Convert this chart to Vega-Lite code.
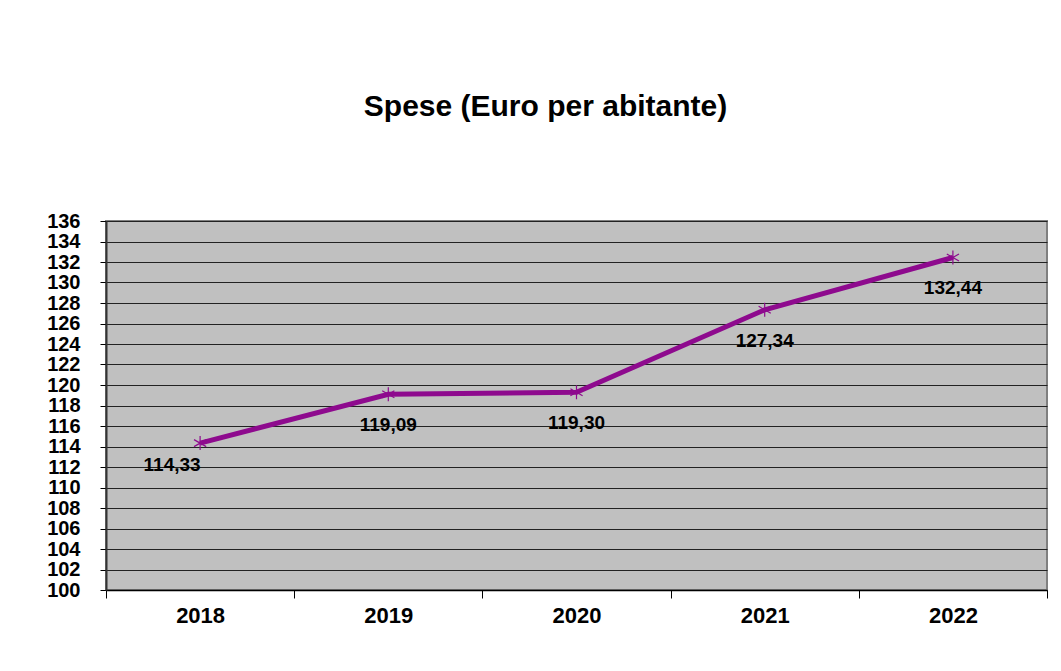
{
  "$schema": "https://vega.github.io/schema/vega-lite/v6.json",
  "autosize": "none",
  "width": 941,
  "height": 369,
  "padding": {"left": 106, "top": 221, "right": 14, "bottom": 81},
  "background": "white",
  "config": {
    "font": "Liberation Sans",
    "view": {"fill": "#C0C0C0", "stroke": "#808080", "strokeWidth": 2}
  },
  "title": {
    "text": "Spese (Euro per abitante)",
    "fontSize": 30,
    "fontWeight": "bold",
    "font": "Liberation Sans",
    "color": "#000000",
    "anchor": "middle",
    "baseline": "alphabetic",
    "offset": 65,
    "frame": "group",
    "dx": -31
  },
  "data": {
    "values": [
      {"anno": "2018", "spese": 114.33, "etichetta": "114,33"},
      {"anno": "2019", "spese": 119.09, "etichetta": "119,09"},
      {"anno": "2020", "spese": 119.30, "etichetta": "119,30"},
      {"anno": "2021", "spese": 127.34, "etichetta": "127,34"},
      {"anno": "2022", "spese": 132.44, "etichetta": "132,44"}
    ]
  },
  "encoding": {
    "x": {
      "field": "anno",
      "type": "ordinal",
      "bandPosition": 0.5,
      "scale": {"type": "band", "paddingInner": 0, "paddingOuter": 0},
      "axis": {
        "title": null,
        "labelAngle": 0,
        "labelFont": "Liberation Sans",
        "labelFontSize": 22,
        "labelFontWeight": "bold",
        "labelColor": "#000000",
        "labelPadding": 7,
        "tickBand": "extent",
        "tickSize": 8,
        "tickColor": "#000000",
        "tickWidth": 1,
        "domainColor": "#000000",
        "domainWidth": 1.5,
        "grid": false
      }
    },
    "y": {
      "field": "spese",
      "type": "quantitative",
      "scale": {"domain": [100, 136], "nice": false, "zero": false},
      "axis": {
        "title": null,
        "values": [100, 102, 104, 106, 108, 110, 112, 114, 116, 118, 120, 122, 124, 126, 128, 130, 132, 134, 136],
        "labelFont": "Liberation Sans",
        "labelFontSize": 20,
        "labelFontWeight": "bold",
        "labelColor": "#000000",
        "labelPadding": 20,
        "labelOverlap": false,
        "labelFlush": false,
        "tickSize": 6,
        "tickColor": "#000000",
        "tickWidth": 1,
        "domainColor": "#333333",
        "domainWidth": 2,
        "grid": true,
        "gridColor": "#222222",
        "gridWidth": 1.2,
        "gridOpacity": 1
      }
    }
  },
  "layer": [
    {
      "mark": {"type": "line", "color": "#8E0A8E", "strokeWidth": 5}
    },
    {
      "mark": {
        "type": "point",
        "shape": "M0,-1L0,1M-0.87,-0.5L0.87,0.5M-0.87,0.5L0.87,-0.5",
        "filled": false,
        "stroke": "#8E0A8E",
        "strokeWidth": 1.2,
        "size": 196,
        "opacity": 1
      }
    },
    {
      "transform": [{"filter": "datum.anno != '2018'"}],
      "mark": {
        "type": "text",
        "font": "Liberation Sans",
        "fontSize": 19,
        "fontWeight": "bold",
        "color": "#000000",
        "baseline": "middle",
        "align": "center",
        "dy": 31
      },
      "encoding": {"text": {"field": "etichetta"}}
    },
    {
      "transform": [{"filter": "datum.anno == '2018'"}],
      "mark": {
        "type": "text",
        "font": "Liberation Sans",
        "fontSize": 19,
        "fontWeight": "bold",
        "color": "#000000",
        "baseline": "middle",
        "align": "center",
        "dy": 22,
        "dx": -28
      },
      "encoding": {"text": {"field": "etichetta"}}
    }
  ]
}
